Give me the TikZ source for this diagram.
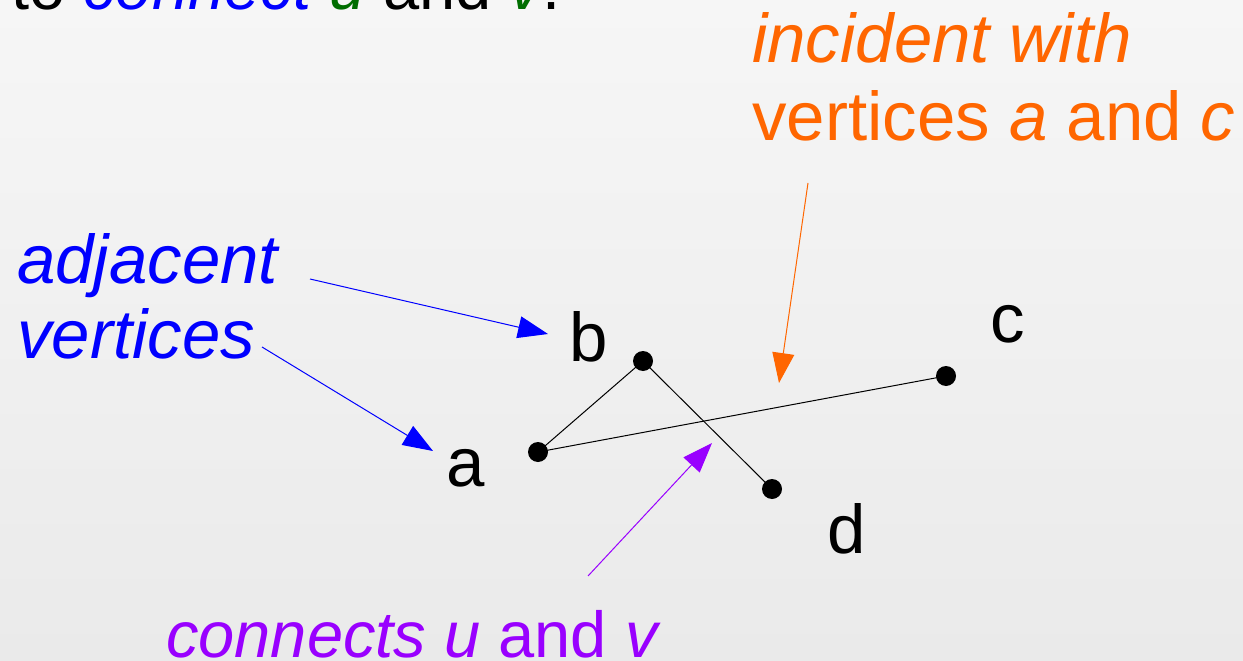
\documentclass[tikz,border=0pt]{standalone}
\usepackage{fontspec}
\setmainfont{Liberation Sans}
\usetikzlibrary{arrows.meta}
\definecolor{bgtop}{RGB}{246,246,246}
\definecolor{bgbot}{RGB}{234,234,234}
\definecolor{adjblue}{RGB}{0,0,255}
\definecolor{incorange}{RGB}{255,102,0}
\definecolor{conpurple}{RGB}{153,0,255}
\definecolor{uvgreen}{RGB}{0,110,0}
\tikzset{
  txt/.style={inner sep=0pt, anchor=base west, font=\fontsize{69}{76}\selectfont},
  small/.style={font=\fontsize{65}{72}\selectfont},
  vertex/.style={circle, fill=black, inner sep=0pt, minimum size=20pt},
  edge/.style={draw=black, line width=1pt},
  pointer/.style={line width=1pt, -{Triangle[length=30pt,width=22pt]}},
}
\begin{document}
\begin{tikzpicture}[x=1pt,y=-1pt]
\useasboundingbox (0,0) rectangle (1243,661);
\shade[top color=bgtop, bottom color=bgbot] (0,0) rectangle (1243,661);
\clip (0,0) rectangle (1243,661);

% heading line running off the top edge
\node[txt, small] (head) at (11,10) {to \textcolor{adjblue}{\itshape connect} \textcolor{uvgreen}{\itshape u} and \textcolor{uvgreen}{\itshape v}.};

% annotations
\node[txt, text=adjblue, font=\fontsize{69}{76}\selectfont\itshape] (adj1) at (17,283) {adjacent};
\node[txt, text=adjblue, font=\fontsize{69}{76}\selectfont\itshape] (adj2) at (17,358) {vertices};
\node[txt, text=incorange, font=\fontsize{69}{76}\selectfont\itshape] (inc1) at (752,63) {incident with};
\node[txt, text=incorange] (inc2) at (752,140) {vertices \textit{a} and \textit{c}};
\node[txt, small, text=conpurple] (con) at (166,657) {\textit{connects u} and \textit{v}};

% vertex labels
\node[txt] (la) at (446,486) {a};
\node[txt] (lb) at (569,361) {b};
\node[txt] (lc) at (990,342) {c};
\node[txt] (ld) at (827,553) {d};

% graph
\node[vertex] (a) at (538,452) {};
\node[vertex] (b) at (643,361) {};
\node[vertex] (c) at (946,376) {};
\node[vertex] (d) at (772,489) {};
\draw[edge] (a.center) -- (b.center);
\draw[edge] (b.center) -- (d.center);
\draw[edge] (a.center) -- (c.center);

% arrow ends
\coordinate (s1) at (310,279);
\coordinate (e1) at (548,334);
\coordinate (s2) at (262,347);
\coordinate (e2) at (433,451);
\coordinate (s3) at (808,183);
\coordinate (e3) at (779,383);
\coordinate (s4) at (588,576);
\coordinate (e4) at (712,443);

\draw[pointer, adjblue] (s1) -- (e1);
\draw[pointer, adjblue] (s2) -- (e2);
\draw[pointer, incorange] (s3) -- (e3);
\draw[pointer, conpurple] (s4) -- (e4);
\end{tikzpicture}
\end{document}
